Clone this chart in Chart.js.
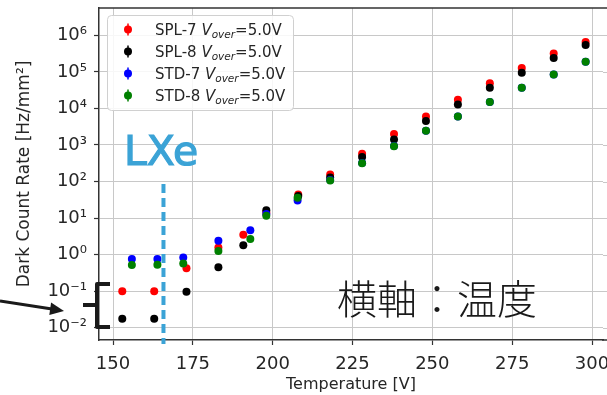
<!DOCTYPE html>
<html>
<head>
<meta charset="utf-8">
<script src="https://cdn.jsdelivr.net/npm/chart.js@4"></script>
<style>
  html, body { margin: 0; padding: 0; background: #fff; }
</style>
</head>
<body>
<canvas id="myChart" width="607" height="395"></canvas>
<script>
// temperatures and dark count rates
const spl7Temp = [152.9, 162.9, 173.0, 183.0, 190.8, 198.0, 208.0, 218.0, 228.0, 238.0, 248.0, 258.0, 268.0, 278.0, 288.0, 298.0];
const spl7Rate = [0.10, 0.10, 0.42, 1.57, 3.5, 14, 44, 155, 575, 1990, 6000, 17400, 49000, 127000, 316000, 660000];
const spl8Temp = [152.9, 162.9, 173.0, 183.0, 190.8, 198.0, 208.0, 218.0, 228.0, 238.0, 248.0, 258.0, 268.0, 278.0, 288.0, 298.0];
const spl8Rate = [0.0175, 0.0175, 0.096, 0.45, 1.79, 16.3, 40, 128, 465, 1410, 4500, 12900, 37000, 95000, 240000, 540000];
const std7Temp = [155.9, 163.9, 172.0, 183.0, 193.0, 198.0, 207.8, 218.0, 228.0, 238.0, 248.0, 258.0, 268.0, 278.0, 288.0, 298.0];
const std7Rate = [0.76, 0.76, 0.83, 2.39, 4.6, 13, 30, 110, 320, 930, 2450, 6000, 14900, 37000, 85000, 190000];
const std8Temp = [155.9, 163.9, 172.0, 183.0, 193.0, 198.0, 207.8, 218.0, 228.0, 238.0, 248.0, 258.0, 268.0, 278.0, 288.0, 298.0];
const std8Rate = [0.52, 0.53, 0.57, 1.25, 2.66, 11.6, 36, 107, 316, 925, 2450, 6000, 14900, 37000, 85000, 190000];

const seriesNames = ['SPL-7', 'SPL-8', 'STD-7', 'STD-8'];
const seriesColors = ['#ff0000', '#000000', '#0000ff', '#008000'];

const xTicks = [150, 175, 200, 225, 250, 275, 300];
const yTickExps = [-2, -1, 0, 1, 2, 3, 4, 5, 6];
const lxeTemp = 165.8;

const sup = { '-': '\u207B', '0': '\u2070', '1': '\u00B9', '2': '\u00B2', '3': '\u00B3',
  '4': '\u2074', '5': '\u2075', '6': '\u2076', '7': '\u2077', '8': '\u2078', '9': '\u2079' };
function toSup(n) {
  return String(n).split('').map(c => sup[c]).join('');
}

function pts(xs, ys) {
  return xs.map((x, i) => ({ x: x, y: ys[i] }));
}

const dataSets = [
  [spl7Temp, spl7Rate],
  [spl8Temp, spl8Rate],
  [std7Temp, std7Rate],
  [std8Temp, std8Rate]
].map((d, i) => ({
  label: seriesNames[i],
  data: pts(d[0], d[1]),
  backgroundColor: seriesColors[i],
  borderWidth: 0,
  pointRadius: 4,
  pointHoverRadius: 4,
  order: 3 - i
}));

const tickFont = { family: 'DejaVu Sans', size: 18 };
const textColor = '#262626';
const gridColor = '#c8c8c8';

// annotations, legend with subscripts, top spine
const extras = {
  id: 'extras',
  afterDraw(chart) {
    const ctx = chart.ctx;
    const area = chart.chartArea;
    const xs = chart.scales.x;
    const ys = chart.scales.y;
    ctx.save();

    // the plot runs past the right edge of the picture
    ctx.strokeStyle = gridColor;
    ctx.lineWidth = 1;
    yTickExps.forEach(e => {
      const y = Math.round(ys.getPixelForValue(Math.pow(10, e))) + 0.5;
      ctx.beginPath();
      ctx.moveTo(area.right, y);
      ctx.lineTo(chart.width, y);
      ctx.stroke();
    });

    // top and bottom spines
    ctx.strokeStyle = '#333';
    ctx.lineWidth = 1.5;
    ctx.beginPath();
    ctx.moveTo(area.left, area.top);
    ctx.lineTo(chart.width, area.top);
    ctx.moveTo(area.right - 1, area.bottom);
    ctx.lineTo(chart.width, area.bottom);
    ctx.stroke();

    // LXe dashed line and label
    const lx = xs.getPixelForValue(lxeTemp);
    ctx.strokeStyle = '#3ba3d6';
    ctx.lineWidth = 4;
    ctx.setLineDash([9, 5]);
    ctx.beginPath();
    ctx.moveTo(lx, 184);
    ctx.lineTo(lx, 344);
    ctx.stroke();
    ctx.setLineDash([]);
    ctx.fillStyle = '#3ba3d6';
    ctx.font = '41px "DejaVu Sans"';
    ctx.textBaseline = 'alphabetic';
    ctx.textAlign = 'left';
    ctx.fillText('LXe', 124, 165);
    ctx.lineWidth = 1.2;
    ctx.strokeText('LXe', 124, 165);

    // legend
    const lx0 = 107, ly0 = 15, lw = 186, lh = 95;
    ctx.fillStyle = 'rgba(255,255,255,0.85)';
    ctx.strokeStyle = '#d0d0d0';
    ctx.lineWidth = 1;
    ctx.beginPath();
    ctx.roundRect(lx0 + 0.5, ly0 + 0.5, lw, lh, 4);
    ctx.fill();
    ctx.stroke();
    seriesNames.forEach((name, i) => {
      const cy = 29.5 + i * 22;
      ctx.strokeStyle = seriesColors[i];
      ctx.fillStyle = seriesColors[i];
      ctx.lineWidth = 1.5;
      ctx.beginPath();
      ctx.moveTo(128, cy - 6);
      ctx.lineTo(128, cy + 6);
      ctx.stroke();
      ctx.beginPath();
      ctx.arc(128, cy, 4, 0, Math.PI * 2);
      ctx.fill();
      ctx.fillStyle = textColor;
      ctx.textBaseline = 'alphabetic';
      const base = cy + 5.5;
      let x = 155;
      ctx.font = '15px "DejaVu Sans"';
      ctx.fillText(name + ' ', x, base);
      x += ctx.measureText(name + ' ').width;
      ctx.font = 'italic 15px "DejaVu Sans"';
      ctx.fillText('V', x, base);
      x += ctx.measureText('V').width;
      ctx.font = 'italic 10.5px "DejaVu Sans"';
      ctx.fillText('over', x, base + 3);
      x += ctx.measureText('over').width;
      ctx.font = '15px "DejaVu Sans"';
      ctx.fillText('=5.0V', x, base);
    });

    // brace and arrow
    ctx.strokeStyle = '#1a1a1a';
    ctx.fillStyle = '#1a1a1a';
    ctx.lineWidth = 4;
    ctx.lineJoin = 'round';
    ctx.beginPath();
    ctx.moveTo(110, 284);
    ctx.lineTo(97, 284);
    ctx.lineTo(97, 327);
    ctx.lineTo(110, 327);
    ctx.moveTo(83, 305);
    ctx.lineTo(97, 305);
    ctx.stroke();

    ctx.lineWidth = 3;
    ctx.beginPath();
    ctx.moveTo(0, 301);
    ctx.lineTo(52, 309);
    ctx.stroke();
    ctx.beginPath();
    ctx.moveTo(64, 311);
    ctx.lineTo(49.3, 315);
    ctx.lineTo(51.1, 302.6);
    ctx.closePath();
    ctx.fill();

    // Japanese note
    ctx.fillStyle = '#1a1a1a';
    ctx.font = '300 40px "Noto Sans CJK JP Light", "Noto Sans CJK JP"';
    ctx.textBaseline = 'middle';
    ctx.fillText('横軸：温度', 337, 299);

    ctx.restore();
  }
};

new Chart(document.getElementById('myChart'), {
  type: 'scatter',
  data: { datasets: dataSets },
  options: {
    responsive: false,
    devicePixelRatio: 1,
    animation: false,
    layout: { padding: { top: 8, right: 0, left: 0, bottom: 0 } },
    plugins: {
      legend: { display: false },
      tooltip: { enabled: false }
    },
    scales: {
      x: {
        type: 'linear',
        min: 145.61,
        max: 303.44,
        afterBuildTicks: s => { s.ticks = xTicks.map(v => ({ value: v })); },
        afterFit: s => { s.height = 55; s.paddingLeft = 0; s.paddingRight = 0; },
        ticks: { font: tickFont, color: textColor, padding: 9, maxRotation: 0,
          callback: v => String(v) },
        grid: {
          color: c => (c.tick && xTicks.includes(c.tick.value)) ? gridColor : 'rgba(0,0,0,0)',
          lineWidth: 1, tickLength: 5, tickColor: '#333', tickWidth: 1.2
        },
        border: { display: true, color: '#333', width: 1.5 },
        title: { display: true, text: 'Temperature [V]', color: textColor,
          font: { family: 'DejaVu Sans', size: 16 }, padding: { top: 0, bottom: 1 } }
      },
      y: {
        type: 'logarithmic',
        min: 0.0046,
        max: 5.6e6,
        afterBuildTicks: s => { s.ticks = yTickExps.map(e => ({ value: Math.pow(10, e) })); },
        afterFit: s => { s.width = 99; s.paddingTop = 0; s.paddingBottom = 0; },
        ticks: { font: tickFont, color: textColor, padding: 7,
          callback: v => '10' + toSup(Math.round(Math.log10(v))) },
        grid: { color: gridColor, lineWidth: 1, tickLength: 5, tickColor: '#333', tickWidth: 1.2 },
        border: { display: true, color: '#333', width: 1.5 },
        title: { display: true, text: 'Dark Count Rate [Hz/mm\u00B2]', color: textColor,
          font: { family: 'DejaVu Sans', size: 17 }, padding: { top: 14, bottom: 0 } }
      }
    }
  },
  plugins: [extras]
});
</script>
</body>
</html>
